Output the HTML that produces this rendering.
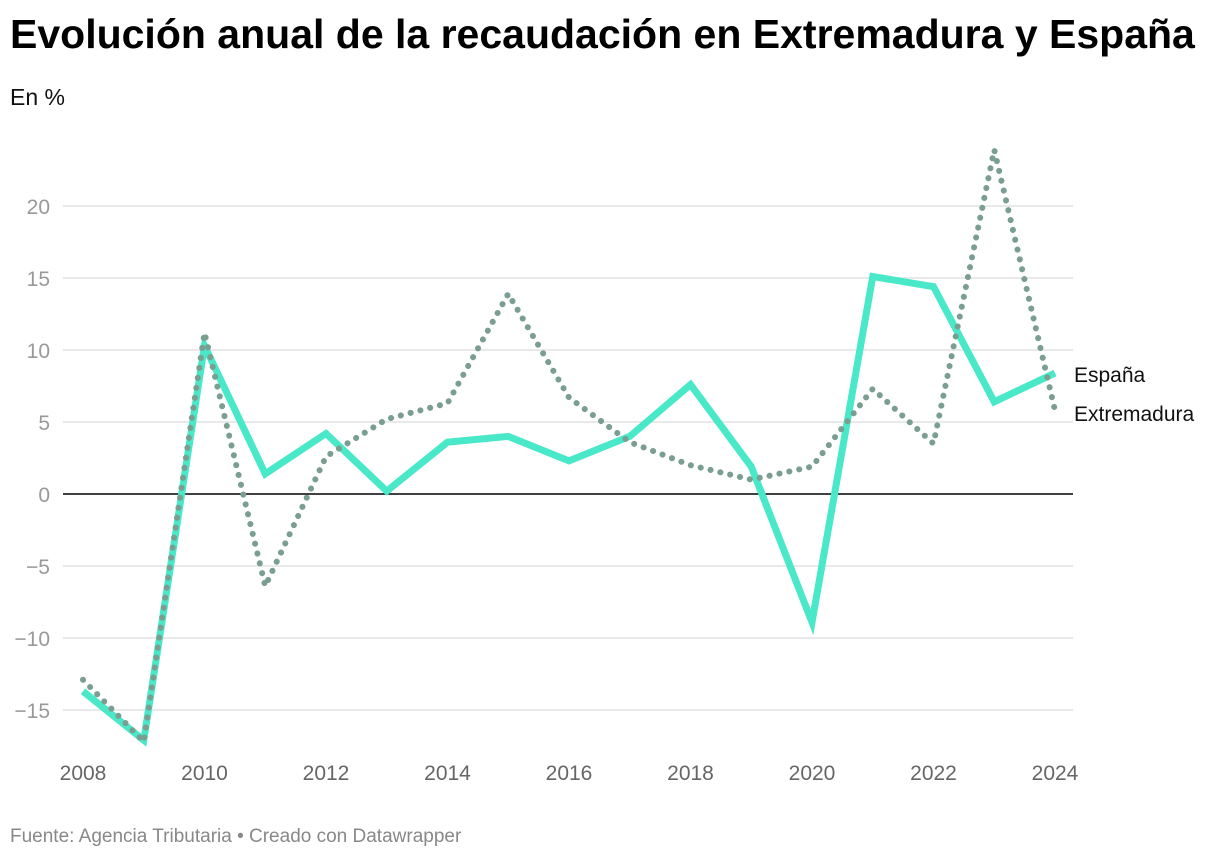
<!DOCTYPE html>
<html><head><meta charset="utf-8"><style>
body{margin:0;background:#fff;width:1220px;height:862px;overflow:hidden;font-family:"Liberation Sans",sans-serif;}
h1{position:absolute;left:10px;top:11px;margin:0;font-size:41px;font-weight:bold;color:#000;letter-spacing:0;}
.sub{position:absolute;left:10px;top:84px;font-size:23px;color:#111;}
.foot{position:absolute;left:10px;top:826px;font-size:19px;color:#888;}
svg{position:absolute;left:0;top:0;}
</style></head><body>
<h1>Evolución anual de la recaudación en Extremadura y España</h1>
<div class="sub">En %</div>
<svg id="c" width="1220" height="862"></svg>
<div class="foot">Fuente: Agencia Tributaria • Creado con Datawrapper</div>
<script>
const years=[2008,2009,2010,2011,2012,2013,2014,2015,2016,2017,2018,2019,2020,2021,2022,2023,2024];
const espana=[-13.7,-17.1,10.3,1.4,4.2,0.2,3.6,4.0,2.3,4.0,7.6,1.9,-8.9,15.1,14.4,6.4,8.4];
const extremadura=[-12.9,-17.2,11.2,-6.4,2.6,5.2,6.3,13.9,6.7,3.6,2.0,1.0,1.9,7.3,3.5,23.9,5.8];
const yTicks=[-15,-10,-5,0,5,10,15,20];
const xTicks=[2008,2010,2012,2014,2016,2018,2020,2022,2024];
const NS='http://www.w3.org/2000/svg';
const svg=document.getElementById('c');
const x=v=>83+(v-2008)*(1055-83)/16;
const y=v=>494-v*14.4;
function mk(t,a){const e=document.createElementNS(NS,t);for(const k in a)e.setAttribute(k,a[k]);svg.appendChild(e);return e;}
yTicks.forEach(t=>{
 const l=mk('line',{x1:63,x2:1073,y1:y(t),y2:y(t),stroke:t===0?'#000':'#e2e2e2','stroke-width':1.5});
 
 
 const tx=mk('text',{x:50,y:y(t)+8,'text-anchor':'end','font-size':21,fill:'#999','font-family':'Liberation Sans, sans-serif'});
 tx.textContent=t<0?'−'+(-t):String(t);
 
 
});
xTicks.forEach(t=>{
 const tx=mk('text',{x:x(t),y:780,'text-anchor':'middle','font-size':21,fill:'#666','font-family':'Liberation Sans, sans-serif'});
 tx.textContent=String(t);
 
 
});
const pts=a=>a.map((v,i)=>x(years[i])+','+y(v)).join(' ');
const le=mk('polyline',{points:pts(espana),fill:'none',stroke:'#48e8c9','stroke-width':7,'stroke-linejoin':'miter'});


const lx=mk('polyline',{points:pts(extremadura),fill:'none',stroke:'#7a9e8f','stroke-width':6,'stroke-linecap':'round','stroke-dasharray':'0.1 10'});


const t1=mk('text',{x:1074,y:382,'font-size':21,fill:'#111','font-family':'Liberation Sans, sans-serif'});
t1.textContent='España';


const t2=mk('text',{x:1074,y:421,'font-size':21,fill:'#111','font-family':'Liberation Sans, sans-serif'});
t2.textContent='Extremadura';


</script>
</body></html>
